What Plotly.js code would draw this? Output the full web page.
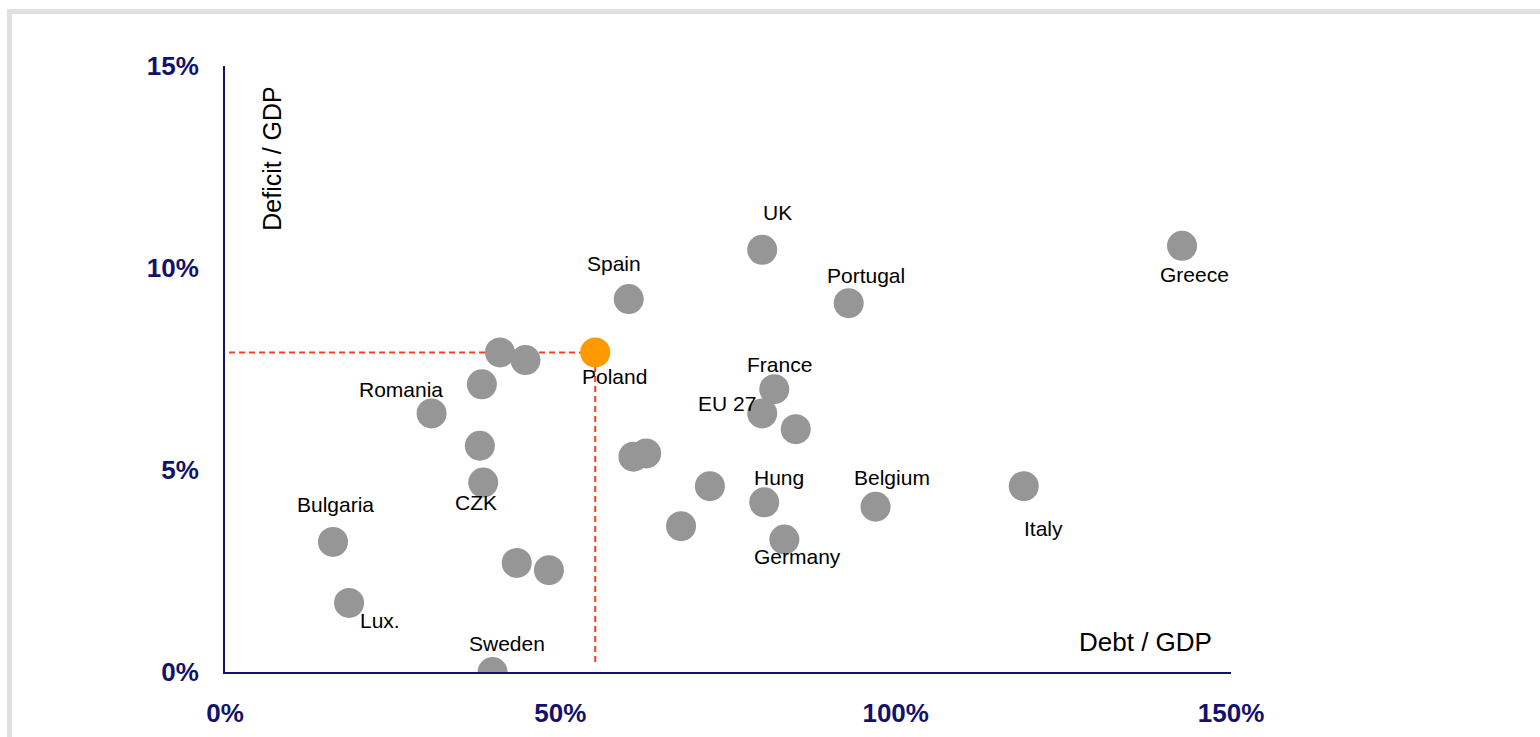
<!DOCTYPE html>
<html>
<head>
<meta charset="utf-8">
<script src="https://cdn.plot.ly/plotly-3.0.1.min.js"></script>
<style>
  html, body { margin: 0; padding: 0; background: #ffffff; width: 1540px; height: 737px; overflow: hidden; }
  #frame { position: absolute; left: 7px; top: 9px; width: 1700px; height: 900px;
           border-left: 5px solid #e0e0e0; border-top: 5px solid #e0e0e0; }
  #chart { position: absolute; left: 0; top: 0; width: 1540px; height: 737px; }
</style>
</head>
<body>
<div id="frame"></div>
<div id="chart"></div>
<script>
// ---- data ----
const countries = ['UK','Greece','Spain','Portugal','Poland','','','','Romania','France','EU 27','','','','','CZK','','Hung','Belgium','Italy','Bulgaria','','Germany','','','Lux.','Sweden'];
const debtPct = [80.1,142.7,60.2,93.0,55.2,41.0,44.8,38.3,30.8,81.9,80.1,85.1,38.0,60.9,62.8,38.5,72.3,80.4,97.0,119.1,16.1,68.0,83.4,43.5,48.3,18.5,39.9];
const deficitPct = [10.45,10.55,9.23,9.13,7.91,7.91,7.72,7.12,6.40,7.00,6.40,6.01,5.60,5.33,5.41,4.69,4.60,4.20,4.09,4.60,3.22,3.61,3.28,2.70,2.52,1.71,0.0];
const highlight = 'Poland';
const xTickVals = [0, 50, 100, 150];
const xTickText = ['0%', '50%', '100%', '150%'];
const yTickVals = [0, 5, 10, 15];
const yTickText = ['0%', '5%', '10%', '15%'];

// ---- label placement (pixel offsets: right, down) ----
const labelShift = {
  'UK': [15, -37], 'Greece': [12, 29], 'Spain': [-15, -36], 'Portugal': [17, -28],
  'Poland': [19, 24], 'Romania': [-31, -24], 'France': [5, -25], 'EU 27': [-35, -10],
  'CZK': [-7, 20], 'Hung': [15, -25], 'Belgium': [16, -29], 'Italy': [20, 42],
  'Bulgaria': [3, -37], 'Germany': [13, 17], 'Lux.': [31, 18], 'Sweden': [14, -29]
};

const navy = '#12126c';
const grey = '#969696';
const orange = '#ff9900';
const dashRed = '#ff3c1e';
const fam = 'Arial, Liberation Sans, sans-serif';

const hi = countries.indexOf(highlight);
const colors = countries.map(c => c === highlight ? orange : grey);

const trace = {
  type: 'scatter',
  mode: 'markers',
  x: debtPct,
  y: deficitPct,
  text: countries,
  marker: { size: 30, color: colors, line: { width: 0 } },
  hoverinfo: 'text+x+y',
  showlegend: false
};

const annotations = [];
countries.forEach((c, i) => {
  if (!c) return;
  const s = labelShift[c] || [0, -25];
  annotations.push({
    x: debtPct[i], y: deficitPct[i], xref: 'x', yref: 'y',
    text: c, showarrow: false, xanchor: 'center', yanchor: 'middle',
    xshift: s[0], yshift: -s[1],
    font: { family: fam, size: 21, color: '#000000' }
  });
});
annotations.push({
  xref: 'paper', yref: 'paper', x: 0.0464, y: 0.8465,
  xanchor: 'center', yanchor: 'middle',
  text: 'Deficit / GDP', textangle: -90, showarrow: false,
  font: { family: fam, size: 25, color: '#000000' }
});
annotations.push({
  xref: 'paper', yref: 'paper', x: 0.9155, y: 0.0495,
  xanchor: 'center', yanchor: 'middle',
  text: 'Debt / GDP', showarrow: false,
  font: { family: fam, size: 26, color: '#000000' }
});

const shapes = [
  { type: 'line', xref: 'x', yref: 'y', x0: 0.6, x1: debtPct[hi], y0: deficitPct[hi], y1: deficitPct[hi],
    line: { color: dashRed, width: 2, dash: '6px,4px' }, layer: 'below' },
  { type: 'line', xref: 'x', yref: 'y', x0: debtPct[hi], x1: debtPct[hi], y0: 0.25, y1: deficitPct[hi],
    line: { color: dashRed, width: 2, dash: '6px,4px' }, layer: 'below' }
];

const tickFont = { family: fam, size: 26, color: navy, weight: 'bold' };

const layout = {
  width: 1540, height: 737, autosize: false,
  margin: { l: 225, r: 309, t: 66, b: 65 },
  paper_bgcolor: 'rgba(0,0,0,0)',
  plot_bgcolor: 'rgba(0,0,0,0)',
  xaxis: {
    range: [0, 150], showgrid: false, zeroline: false,
    showline: true, linecolor: navy, linewidth: 2,
    tickmode: 'array', tickvals: xTickVals, ticktext: xTickText,
    ticks: '', tickfont: tickFont, ticklabelstandoff: 17
  },
  yaxis: {
    range: [0, 15], showgrid: false, zeroline: false,
    showline: true, linecolor: navy, linewidth: 2,
    tickmode: 'array', tickvals: yTickVals, ticktext: yTickText,
    ticks: '', tickfont: tickFont, ticklabelstandoff: 19
  },
  shapes: shapes,
  annotations: annotations,
  showlegend: false
};

Plotly.newPlot('chart', [trace], layout, { displayModeBar: false, staticPlot: true });
</script>
</body>
</html>
